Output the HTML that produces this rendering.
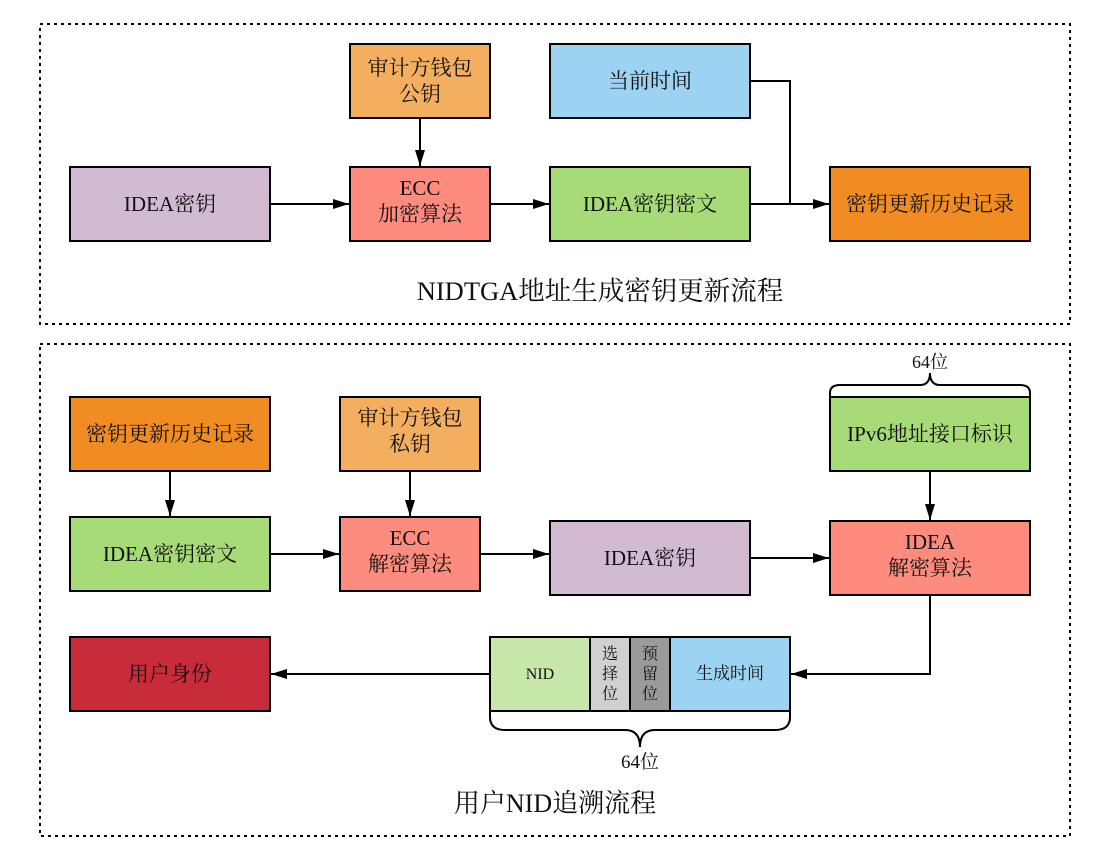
<!DOCTYPE html>
<html><head><meta charset="utf-8"><style>body{margin:0;background:#fff}svg{display:block}text{font-family:"Liberation Serif","Noto Serif CJK SC","Noto Sans CJK SC",serif;fill:#111}</style></head><body>
<svg width="1110" height="856" viewBox="0 0 1110 856">
<defs><marker id="b" markerWidth="16" markerHeight="10" refX="16" refY="5" orient="auto" markerUnits="userSpaceOnUse"><path d="M0,0L16,5L0,10z" fill="#000"/></marker></defs>
<g fill="none" stroke="#000" stroke-width="2" stroke-dasharray="3,4">
<rect x="40" y="24" width="1030" height="300"/><rect x="40" y="344" width="1030" height="492"/></g>
<g stroke="#000" stroke-width="2">
<rect x="350" y="44" width="140" height="74" fill="#f3ae60"/>
<rect x="550" y="44" width="200" height="74" fill="#9cd3f2"/>
<rect x="70" y="167" width="200" height="74" fill="#d2bad3"/>
<rect x="350" y="167" width="140" height="74" fill="#fe8c7e"/>
<rect x="550" y="167" width="200" height="74" fill="#a6db78"/>
<rect x="830" y="167" width="200" height="74" fill="#f08c22"/>
<rect x="70" y="397" width="200" height="74" fill="#f08c22"/>
<rect x="340" y="397" width="140" height="74" fill="#f3ae60"/>
<rect x="830" y="397" width="200" height="74" fill="#a6db78"/>
<rect x="70" y="517" width="200" height="74" fill="#a6db78"/>
<rect x="340" y="517" width="140" height="74" fill="#fe8c7e"/>
<rect x="550" y="521" width="200" height="74" fill="#d2bad3"/>
<rect x="830" y="521" width="200" height="74" fill="#fe8c7e"/>
<rect x="70" y="637" width="200" height="74" fill="#c82c3a"/>
<rect x="490" y="637" width="100" height="74" fill="#c8e7aa"/>
<rect x="590" y="637" width="40" height="74" fill="#d0d0d0"/>
<rect x="630" y="637" width="40" height="74" fill="#9a9a9a"/>
<rect x="670" y="637" width="120" height="74" fill="#9cd3f2"/>
</g>
<g stroke="#000" stroke-width="2" fill="none">
<path d="M420,118V166" marker-end="url(#b)"/>
<path d="M270,204H349" marker-end="url(#b)"/>
<path d="M490,204H549" marker-end="url(#b)"/>
<path d="M750,204H829" marker-end="url(#b)"/>
<path d="M750,81H790V204"/>
<path d="M170,471V516" marker-end="url(#b)"/>
<path d="M410,471V516" marker-end="url(#b)"/>
<path d="M930,471V520" marker-end="url(#b)"/>
<path d="M270,554H339" marker-end="url(#b)"/>
<path d="M480,554H549" marker-end="url(#b)"/>
<path d="M750,558H829" marker-end="url(#b)"/>
<path d="M930,595V674H791" marker-end="url(#b)"/>
<path d="M490,674H271" marker-end="url(#b)"/>
<path d="M830,397V393Q830,385 840,385H920Q930,385 930,373Q930,385 940,385H1020Q1030,385 1030,393V397"/>
<path d="M490,711V717Q490,730 505,730H625Q640,730 640,747Q640,730 655,730H775Q790,730 790,717V711"/>
</g>
<g font-size="21" text-anchor="middle">
<text x="420" y="75">审计方钱包</text><text x="420" y="101">公钥</text>
<text x="650" y="88">当前时间</text>
<text x="170" y="211">IDEA密钥</text>
<text x="420" y="195">ECC</text><text x="420" y="221">加密算法</text>
<text x="650" y="211">IDEA密钥密文</text>
<text x="930" y="211">密钥更新历史记录</text>
<text x="600" y="300" font-size="26.5">NIDTGA地址生成密钥更新流程</text>
<text x="170" y="441">密钥更新历史记录</text>
<text x="410" y="425">审计方钱包</text><text x="410" y="451">私钥</text>
<text x="930" y="441">IPv6地址接口标识</text>
<text x="930" y="368" font-size="18">64位</text>
<text x="170" y="561">IDEA密钥密文</text>
<text x="410" y="545">ECC</text><text x="410" y="571">解密算法</text>
<text x="650" y="565">IDEA密钥</text>
<text x="930" y="549">IDEA</text><text x="930" y="575">解密算法</text>
<text x="170" y="681">用户身份</text>
<text x="540" y="679" font-size="16">NID</text>
<text x="610" y="659" font-size="16">选</text><text x="610" y="679" font-size="16">择</text><text x="610" y="699" font-size="16">位</text>
<text x="650" y="659" font-size="16">预</text><text x="650" y="679" font-size="16">留</text><text x="650" y="699" font-size="16">位</text>
<text x="730" y="679" font-size="17">生成时间</text>
<text x="640" y="768" font-size="19">64位</text>
<text x="555" y="812" font-size="26">用户NID追溯流程</text>
</g>
</svg>
</body></html>
